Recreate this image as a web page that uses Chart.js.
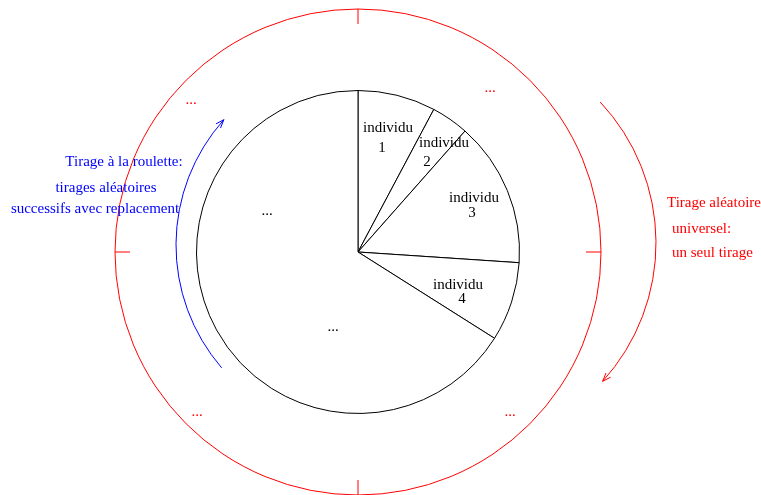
<!DOCTYPE html>
<html>
<head>
<meta charset="utf-8">
<script src="https://cdn.jsdelivr.net/npm/chart.js@4/dist/chart.umd.min.js"></script>
<style>
  html, body { margin: 0; padding: 0; background: #fff; }
</style>
</head>
<body>
<canvas id="roue" width="761" height="495"></canvas>
<script>
// Parts de la roue (en degrés), en partant de midi, sens horaire
const labels = ['individu 1', 'individu 2', 'individu 3', 'individu 4', '...'];
const parts = [28, 13.5, 52.3, 28.5, 237.7];

// Textes dans les parts : [texte, dx, dy] par rapport au centre
const sliceText = [
    ['individu', 30, -124], ['1', 24, -104],
    ['individu', 86, -109], ['2', 69, -90],
    ['individu', 116, -54], ['3', 114, -39],
    ['individu', 100, 33], ['4', 104, 47],
    ['...', -91, -41], ['...', -25, 75]
];
const redDots = [[-167, -152], [132, -164], [-161, 160], [152, 160]];
const blueText = [['Tirage à la roulette:', -234, -90], ['tirages aléatoires', -252, -64], ['successifs avec replacement', -263, -43]];
const redText = [['Tirage aléatoire', 309, -49], ['universel:', 314, -23], ['un seul tirage', 314, 1]];

const RED = '#ff0000';
const BLUE = '#0000ff';
const FONT = '15px "Liberation Serif", "DejaVu Serif", serif';

function arcWithArrow(ctx, x, y, r, a0, a1, color) {
    ctx.save();
    ctx.strokeStyle = color;
    ctx.lineWidth = 1;
    ctx.beginPath();
    ctx.arc(x, y, r, a0, a1, false);
    ctx.stroke();
    // pointe de flèche à la fin
    const tx = x + r * Math.cos(a1), ty = y + r * Math.sin(a1);
    const dir = Math.atan2(Math.cos(a1), -Math.sin(a1)); // direction du mouvement
    const len = 9, spread = 0.35;
    ctx.beginPath();
    ctx.moveTo(tx - len * Math.cos(dir - spread), ty - len * Math.sin(dir - spread));
    ctx.lineTo(tx, ty);
    ctx.lineTo(tx - len * Math.cos(dir + spread), ty - len * Math.sin(dir + spread));
    ctx.stroke();
    ctx.restore();
}

const decorPlugin = {
    id: 'decor',
    afterDraw(chart) {
        const ctx = chart.ctx;
        const arc = chart.getDatasetMeta(0).data[0];
        const cx = arc.x, cy = arc.y;
        const deg = Math.PI / 180;

        ctx.save();
        // grand cercle rouge + graduations
        ctx.strokeStyle = RED;
        ctx.lineWidth = 1;
        const Ro = 243;
        ctx.beginPath();
        ctx.arc(cx, cy, Ro, 0, 2 * Math.PI);
        ctx.stroke();
        for (let k = 0; k < 4; k++) {
            const a = k * Math.PI / 2;
            ctx.beginPath();
            ctx.moveTo(cx + Ro * Math.cos(a), cy + Ro * Math.sin(a));
            ctx.lineTo(cx + (Ro - 15) * Math.cos(a), cy + (Ro - 15) * Math.sin(a));
            ctx.stroke();
        }

        // flèches
        arcWithArrow(ctx, cx + 6, cy - 7, 188, 139.2 * deg, 221.8 * deg, BLUE);
        arcWithArrow(ctx, cx + 92, cy - 9, 206, -43.2 * deg, 42.2 * deg, RED);

        ctx.font = FONT;
        ctx.textBaseline = 'middle';

        ctx.fillStyle = '#000';
        ctx.textAlign = 'center';
        sliceText.forEach(([t, dx, dy]) => ctx.fillText(t, cx + dx, cy + dy));

        ctx.fillStyle = RED;
        redDots.forEach(([dx, dy]) => ctx.fillText('...', cx + dx, cy + dy));

        ctx.fillStyle = BLUE;
        blueText.forEach(([t, dx, dy]) => ctx.fillText(t, cx + dx, cy + dy));

        ctx.fillStyle = RED;
        ctx.textAlign = 'left';
        redText.forEach(([t, dx, dy]) => ctx.fillText(t, cx + dx, cy + dy));
        ctx.restore();
    }
};

new Chart(document.getElementById('roue').getContext('2d'), {
    type: 'pie',
    data: {
        labels: labels,
        datasets: [{
            data: parts,
            backgroundColor: '#ffffff',
            borderColor: '#000000',
            borderWidth: 1
        }]
    },
    options: {
        responsive: false,
        animation: false,
        layout: { padding: { left: 196, right: 241, top: 90, bottom: 81 } },
        plugins: {
            legend: { display: false },
            tooltip: { enabled: false }
        }
    },
    plugins: [decorPlugin]
});
</script>
</body>
</html>
